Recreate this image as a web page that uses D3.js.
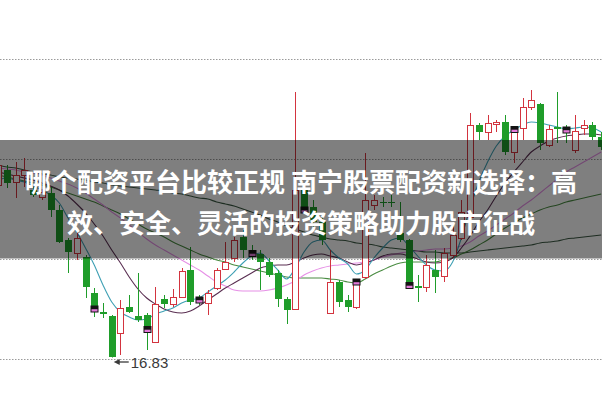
<!DOCTYPE html>
<html><head><meta charset="utf-8">
<script src="https://cdn.jsdelivr.net/npm/d3@7"></script>
<style>html,body{margin:0;padding:0;background:#fff;overflow:hidden}</style>
</head><body><svg id="c" width="602" height="401"></svg>
<script>
const opens  = [20.28,20.58,20.34,20.48,20.18,20.04,20.12,19.78,19.18,18.92,18.84,18.12,17.74,17.66,17.32,17.84,17.66,17.68,17.14,18.00,17.90,18.04,18.58,18.02,17.92,18.22,18.60,18.82,19.24,18.98,18.90,18.74,18.52,18.00,17.80,20.18,19.84,19.54,17.72,18.34,17.98,17.84,18.44,19.88,19.94,19.94,19.32,19.18,18.26,18.24,18.58,18.46,18.88,19.22,19.64,21.48,21.34,21.50,21.54,20.94,21.42,21.84,21.90,21.08,21.44,21.42,20.98,21.42,21.48,21.24];
const highs  = [20.78,20.68,20.74,20.82,20.24,20.20,20.24,19.88,19.22,19.34,18.88,18.22,17.92,17.68,17.98,18.08,18.52,17.72,18.24,18.08,18.20,18.62,19.04,18.08,18.18,18.62,19.14,19.24,19.38,19.08,18.98,18.82,18.58,18.04,22.14,20.28,19.98,19.62,18.98,18.38,18.08,18.40,20.92,20.08,20.04,20.08,19.94,19.20,18.48,18.88,18.98,19.02,19.48,19.98,21.72,21.52,21.68,21.58,21.68,21.38,22.02,22.18,21.92,21.48,22.14,21.48,21.68,21.58,21.54,21.34];
const lows   = [20.18,20.22,20.02,20.24,20.04,19.98,19.64,19.12,18.52,18.78,18.02,17.64,17.62,16.83,16.88,17.72,17.54,16.98,17.12,17.82,17.84,18.02,17.88,17.88,17.68,18.18,18.58,18.74,18.82,18.78,18.18,18.44,17.84,17.50,17.78,19.74,19.42,19.08,17.70,17.84,17.74,17.80,18.40,19.78,19.84,19.84,19.14,18.30,17.94,18.14,18.12,18.34,18.82,19.18,19.58,21.18,21.18,21.34,20.88,20.72,21.18,21.78,20.98,21.04,21.12,21.12,20.92,21.28,21.18,20.98];
const closes = [20.68,20.32,20.48,20.58,20.08,20.14,19.78,19.14,18.94,19.22,18.24,17.84,17.70,16.84,17.82,17.74,17.58,17.44,17.90,17.90,18.04,18.56,17.94,17.94,18.12,18.58,18.74,19.18,18.98,18.88,18.74,18.48,18.00,17.78,20.18,19.84,19.54,19.18,18.34,17.94,17.84,18.32,19.98,19.98,19.92,19.92,19.18,18.32,18.22,18.68,18.44,18.92,19.28,19.74,21.48,21.34,21.52,21.54,20.94,21.34,21.84,21.98,21.12,21.40,21.40,21.32,21.36,21.48,21.24,21.04];

const ma5  = [20.38,20.42,20.38,20.34,20.26,20.18,20.08,19.92,19.62,19.34,19.02,18.68,18.28,17.94,17.74,17.64,17.58,17.60,17.70,17.76,17.82,17.92,17.98,18.02,18.14,18.26,18.38,18.54,18.72,18.86,18.92,18.76,18.58,18.40,18.62,18.94,19.14,19.18,18.98,18.82,18.70,18.50,18.58,18.82,19.02,19.18,19.22,19.06,18.86,18.68,18.58,18.56,18.74,19.22,19.82,20.34,20.74,21.06,21.26,21.38,21.48,21.54,21.52,21.48,21.44,21.40,21.42,21.44,21.42,21.34];
const ma10 = [20.54,20.50,20.46,20.42,20.38,20.32,20.26,20.18,20.06,19.90,19.72,19.50,19.26,18.98,18.72,18.44,18.20,18.02,17.90,17.80,17.74,17.72,17.76,17.86,17.98,18.10,18.22,18.32,18.42,18.52,18.62,18.66,18.68,18.68,18.74,18.82,18.88,18.90,18.86,18.82,18.74,18.68,18.72,18.78,18.86,18.90,18.90,18.86,18.80,18.74,18.72,18.74,18.82,19.02,19.26,19.54,19.78,20.06,20.32,20.54,20.74,20.94,21.06,21.16,21.22,21.26,21.28,21.30,21.30,21.28];
const ma20 = [20.62,20.60,20.58,20.54,20.52,20.48,20.42,20.36,20.30,20.22,20.12,20.00,19.88,19.74,19.62,19.48,19.34,19.20,19.08,18.98,18.88,18.78,18.68,18.58,18.46,18.34,18.26,18.18,18.16,18.16,18.16,18.18,18.22,18.28,18.36,18.48,18.56,18.62,18.66,18.68,18.70,18.72,18.74,18.78,18.84,18.88,18.92,18.94,18.96,18.98,19.00,19.00,19.02,19.06,19.14,19.26,19.36,19.48,19.60,19.72,19.86,19.98,20.12,20.26,20.40,20.54,20.64,20.74,20.84,20.94];
const ma30 = [20.48,20.44,20.40,20.36,20.32,20.28,20.24,20.18,20.12,20.06,20.00,19.94,19.86,19.78,19.70,19.60,19.50,19.40,19.32,19.24,19.14,19.06,18.98,18.90,18.84,18.78,18.74,18.68,18.64,18.60,18.56,18.52,18.48,18.44,18.42,18.42,18.42,18.42,18.40,18.38,18.34,18.32,18.40,18.50,18.58,18.66,18.72,18.74,18.74,18.74,18.74,18.78,18.82,18.90,18.98,19.08,19.18,19.30,19.42,19.52,19.62,19.70,19.78,19.84,19.88,19.94,19.98,20.02,20.06,20.10];
const ma60 = [20.68,20.64,20.62,20.58,20.54,20.50,20.48,20.44,20.42,20.40,20.38,20.34,20.32,20.28,20.26,20.24,20.22,20.20,20.18,20.16,20.12,20.10,20.06,20.02,20.00,19.94,19.90,19.86,19.80,19.74,19.68,19.60,19.54,19.46,19.40,19.34,19.28,19.24,19.20,19.18,19.16,19.12,19.10,19.08,19.04,19.02,19.00,18.98,18.96,18.94,18.94,18.92,18.92,18.92,18.94,18.96,18.98,19.00,19.02,19.04,19.06,19.08,19.12,19.14,19.16,19.20,19.22,19.24,19.26,19.28];

const gridValues = [16.8, 18.8, 20.8, 22.8];
const markerIdx   = [11, 17, 23, 29, 35, 41, 47, 59, 65];
const markerPrice = [17.80, 17.39, 17.98, 18.91, 19.78, 18.34, 18.27, 21.39, 21.38];
const lowLabel = "16.83";
const titleLines = ["哪个配资平台比较正规 南宁股票配资新选择：高", "效、安全、灵活的投资策略助力股市征战"];

const W = 602, H = 401;
const svg = d3.select("#c");
const n = opens.length;
const x = d3.scaleLinear().domain([0, n - 1]).range([-1.9, 601.2]);
const y = d3.scaleLinear().domain([16.8, 22.8]).range([359, 59]);

const RED = "#d3343f", GREEN = "#1f9d2a";

// grid
svg.append("g").selectAll("line").data(gridValues).join("line")
  .attr("x1", 0).attr("x2", W)
  .attr("y1", d => Math.round(y(d)) + 0.5).attr("y2", d => Math.round(y(d)) + 0.5)
  .attr("stroke", "#9a9a9a").attr("stroke-width", 1).attr("stroke-dasharray", "1.5,1.5");

// MA lines
const maDefs = [
  {data: ma60, color: "#3c5a44"},
  {data: ma30, color: "#4a8c42"},
  {data: ma20, color: "#e690e6"},
  {data: ma10, color: "#5a2f52"},
  {data: ma5,  color: "#3fa0b4"}
];
const line = d3.line().x((d, i) => x(i)).y(d => y(d)).curve(d3.curveMonotoneX);
svg.append("g").selectAll("path").data(maDefs).join("path")
  .attr("d", d => line(d.data)).attr("fill", "none")
  .attr("stroke", d => d.color).attr("stroke-width", 1.1);

// candles
const idx = d3.range(n);
const cg = svg.append("g");
idx.forEach(i => {
  const up = closes[i] >= opens[i];
  const cx = Math.round(x(i)) + 0.5;
  const col = up ? RED : GREEN;
  cg.append("line").attr("x1", cx).attr("x2", cx)
    .attr("y1", y(highs[i])).attr("y2", y(lows[i]))
    .attr("stroke", col).attr("stroke-width", 1);
  const top = y(Math.max(opens[i], closes[i]));
  const bot = y(Math.min(opens[i], closes[i]));
  const h = Math.max(1, bot - top);
  if (up) {
    cg.append("rect").attr("x", cx - 3).attr("y", Math.round(top) + 0.5)
      .attr("width", 6).attr("height", Math.max(1, Math.round(h)))
      .attr("fill", "#fff").attr("stroke", col).attr("stroke-width", 1);
  } else {
    cg.append("rect").attr("x", cx - 3.5).attr("y", top)
      .attr("width", 7).attr("height", h).attr("fill", col);
  }
});

// markers
const mg = svg.append("g");
markerIdx.forEach((mi, k) => {
  const cx = Math.round(x(mi)) + 0.5, cy = y(markerPrice[k]);
  mg.append("rect").attr("x", cx - 4).attr("y", cy - 3.5).attr("width", 8).attr("height", 7).attr("fill", "#141414");
  mg.append("rect").attr("x", cx - 3).attr("y", cy + 0.2).attr("width", 6).attr("height", 2.3).attr("fill", "#e27ad8");
});

// low label
const lowI = lows.indexOf(d3.min(lows));
const lx = x(lowI) + 2, ly = y(lows[lowI]) + 4.5;
svg.append("path").attr("d", `M${lx},${ly} L${lx + 6},${ly - 3} L${lx + 6},${ly + 3} Z`).attr("fill", "#3a3a3a");
svg.append("line").attr("x1", lx + 5).attr("x2", lx + 15).attr("y1", ly).attr("y2", ly).attr("stroke", "#3a3a3a").attr("stroke-width", 1.3);
svg.append("text").attr("x", lx + 17).attr("y", ly).attr("dominant-baseline", "central")
  .attr("font-family", "Liberation Sans, Arial, sans-serif").attr("font-size", 15).attr("fill", "#3a3a3a").text(lowLabel);

// banner
svg.append("rect").attr("x", 0).attr("y", 140).attr("width", W).attr("height", 118.5).attr("fill", "rgba(0,0,0,0.5)");
svg.append("g").selectAll("text").data(titleLines).join("text")
  .attr("x", 301).attr("y", (d, i) => 180 + i * 41.5)
  .attr("text-anchor", "middle").attr("dominant-baseline", "central")
  .attr("font-family", "Noto Sans CJK SC, sans-serif").attr("font-weight", 700)
  .attr("font-size", 26).attr("fill", "#fff").text(d => d);
</script></body></html>
